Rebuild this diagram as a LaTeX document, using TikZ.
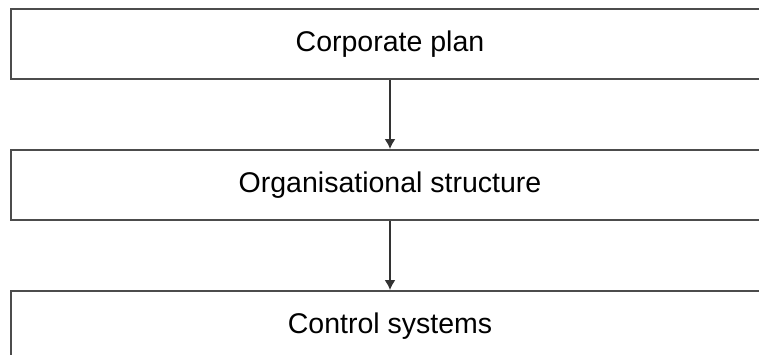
\documentclass[tikz,border=0pt]{standalone}
\usepackage{fontspec}
\setmainfont{Liberation Sans}
\usetikzlibrary{arrows.meta}
\usetikzlibrary{positioning}

\begin{document}
\begin{tikzpicture}[x = 1pt, y = 1pt, black!70, line width = 2pt,
        stage/.style = {rectangle, draw, fill = white, text = black,
            minimum width = 758pt, minimum height = 70pt, inner sep = 0pt,
            font = \fontsize{28.5}{32}\selectfont},
        flow/.style = {-{Latex[length = 10pt, width = 11pt]}, line width = 1.6pt, black!80}]
    \useasboundingbox (0,0) rectangle (759,-354);
    \clip (0,0) rectangle (759,-354);

    \node (corpplan) at (390,-44) [stage] {Corporate plan};
    \node (orgstruct) [stage, below = 69pt of corpplan] {Organisational structure};
    \node (ctrlsys) [stage, below = 69pt of orgstruct] {Control systems};

    \draw[flow] (corpplan) -- (orgstruct);
    \draw[flow] (orgstruct) -- (ctrlsys);

\end{tikzpicture}
\end{document}
